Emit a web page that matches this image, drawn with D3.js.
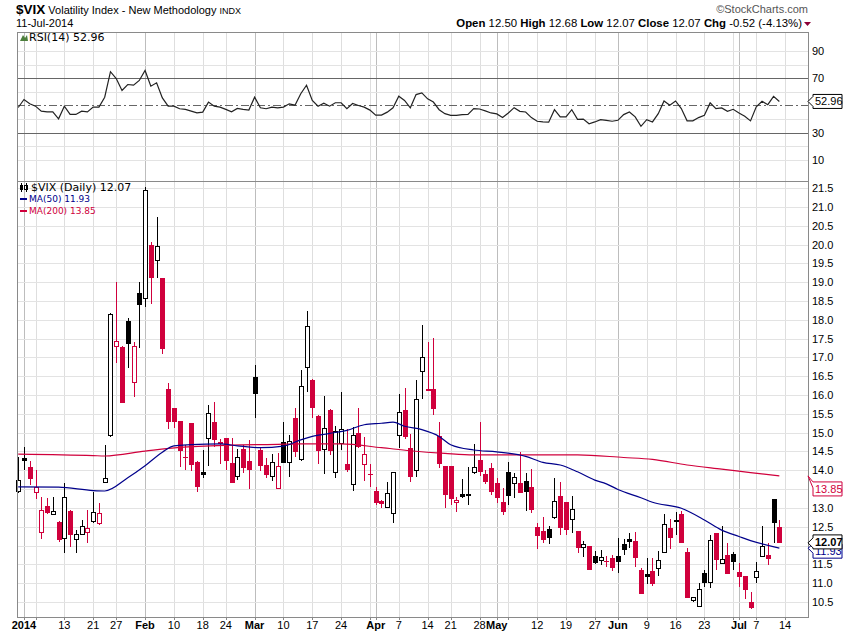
<!DOCTYPE html>
<html>
<head>
<meta charset="utf-8">
<script src="https://cdn.jsdelivr.net/npm/d3@7"></script>
<style>
body { margin: 0; background: #fff; }
svg text { font-family: "Liberation Sans", Arial, sans-serif; fill: #000; }
</style>
</head>
<body>
<div id="chart"></div>
<script>
// trading days on the chart, Dec 31 2013 .. Jul 11 2014
var dates = ["2013-12-31",
  "2014-01-02","2014-01-03","2014-01-06","2014-01-07","2014-01-08","2014-01-09","2014-01-10","2014-01-13","2014-01-14","2014-01-15","2014-01-16","2014-01-17","2014-01-21","2014-01-22","2014-01-23","2014-01-24","2014-01-27","2014-01-28","2014-01-29","2014-01-30","2014-01-31",
  "2014-02-03","2014-02-04","2014-02-05","2014-02-06","2014-02-07","2014-02-10","2014-02-11","2014-02-12","2014-02-13","2014-02-14","2014-02-18","2014-02-19","2014-02-20","2014-02-21","2014-02-24","2014-02-25","2014-02-26","2014-02-27","2014-02-28",
  "2014-03-03","2014-03-04","2014-03-05","2014-03-06","2014-03-07","2014-03-10","2014-03-11","2014-03-12","2014-03-13","2014-03-14","2014-03-17","2014-03-18","2014-03-19","2014-03-20","2014-03-21","2014-03-24","2014-03-25","2014-03-26","2014-03-27","2014-03-28","2014-03-31",
  "2014-04-01","2014-04-02","2014-04-03","2014-04-04","2014-04-07","2014-04-08","2014-04-09","2014-04-10","2014-04-11","2014-04-14","2014-04-15","2014-04-16","2014-04-17","2014-04-21","2014-04-22","2014-04-23","2014-04-24","2014-04-25","2014-04-28","2014-04-29","2014-04-30",
  "2014-05-01","2014-05-02","2014-05-05","2014-05-06","2014-05-07","2014-05-08","2014-05-09","2014-05-12","2014-05-13","2014-05-14","2014-05-15","2014-05-16","2014-05-19","2014-05-20","2014-05-21","2014-05-22","2014-05-23","2014-05-27","2014-05-28","2014-05-29","2014-05-30",
  "2014-06-02","2014-06-03","2014-06-04","2014-06-05","2014-06-06","2014-06-09","2014-06-10","2014-06-11","2014-06-12","2014-06-13","2014-06-16","2014-06-17","2014-06-18","2014-06-19","2014-06-20","2014-06-23","2014-06-24","2014-06-25","2014-06-26","2014-06-27","2014-06-30",
  "2014-07-01","2014-07-02","2014-07-03","2014-07-07","2014-07-08","2014-07-09","2014-07-10","2014-07-11"];

var open = [13.46,
  14.32,14.08,13.42,12.37,13.05,12.84,12.63,12.19,12.92,12.17,12.33,12.35,12.63,12.59,13.68,14.94,17.30,17.28,17.97,16.35,18.70,
  18.57,19.99,19.59,19.12,16.16,15.65,15.31,14.36,15.25,14.23,13.95,14.85,15.28,14.76,14.85,14.19,13.85,14.56,14.25,
  16.47,14.54,14.14,13.83,13.52,14.76,14.23,15.38,14.29,16.74,16.40,15.44,14.56,15.60,13.96,14.72,14.17,13.65,15.00,14.16,13.91,
  13.45,13.18,13.02,12.88,14.96,15.60,14.60,14.01,16.65,16.15,16.15,14.91,14.11,14.11,13.14,13.37,13.35,13.94,14.27,13.90,14.05,
  13.65,13.17,13.95,13.65,13.67,13.72,13.55,12.48,12.39,12.44,12.75,13.32,13.17,12.70,12.39,11.95,11.99,11.72,11.62,11.58,11.68,
  11.72,12.04,12.17,12.13,11.35,11.25,11.32,11.42,11.82,12.46,12.66,12.84,11.82,10.54,10.40,11.26,11.03,12.33,11.53,11.75,11.77,
  11.29,11.19,10.49,11.16,11.73,11.75,13.24,12.50];

var high = [14.36,
  14.63,14.25,14.01,13.30,13.26,13.28,12.66,13.67,12.95,12.41,12.68,12.95,13.43,13.12,14.67,18.17,19.01,17.30,18.06,17.42,19.01,
  21.52,20.07,20.74,19.12,16.33,15.65,15.31,14.67,15.27,14.26,14.54,15.73,15.82,14.82,14.87,14.85,14.56,14.67,14.80,
  16.80,14.58,14.32,14.43,14.45,15.28,14.94,15.66,16.66,18.23,16.43,15.46,15.97,15.63,15.18,16.09,15.09,15.16,15.65,14.89,14.17,
  13.56,13.20,13.70,13.96,16.02,16.20,14.96,16.40,17.86,17.40,17.51,15.29,14.11,14.11,13.30,13.76,14.10,14.70,15.28,14.01,14.19,
  13.79,13.52,14.23,13.92,14.49,13.92,14.03,12.59,12.75,12.52,13.79,13.70,13.17,13.32,12.39,12.13,11.99,11.86,11.88,11.71,11.75,
  12.19,12.17,12.34,12.37,11.40,11.66,11.66,11.86,12.84,12.70,12.90,12.93,11.93,10.62,11.01,11.35,12.28,12.33,12.52,12.06,11.82,
  11.53,11.19,10.77,11.55,12.52,12.06,13.24,12.68];

var low = [13.40,
  14.01,13.61,13.23,12.17,12.83,12.84,12.10,11.81,11.97,11.81,12.28,12.06,12.61,12.55,13.68,14.89,16.84,15.78,16.71,15.96,17.24,
  18.33,18.42,19.10,17.08,15.09,15.12,14.08,14.01,13.99,13.43,13.80,14.11,14.63,14.18,14.01,13.66,13.74,13.92,13.50,
  15.38,13.99,13.80,13.72,13.52,14.19,13.83,14.36,14.25,16.09,15.38,14.16,13.90,14.41,13.79,14.54,13.96,13.46,14.60,13.72,13.56,
  13.08,13.00,13.02,12.61,14.58,14.82,13.70,13.81,15.89,16.11,15.47,14.05,12.99,13.09,12.90,13.26,13.08,13.90,13.85,13.64,13.34,
  13.14,12.81,13.08,13.27,13.40,12.93,12.87,11.90,12.06,12.03,12.71,12.28,12.28,12.33,11.81,11.69,11.35,11.51,11.48,11.44,11.33,
  11.28,11.75,11.93,11.44,10.71,10.98,10.93,11.19,11.82,11.90,12.28,12.06,10.60,10.51,10.36,10.91,10.88,11.35,11.53,11.25,11.35,
  10.91,10.57,10.32,11.01,11.73,11.48,12.06,12.07];

var close = [13.74,
  14.23,13.76,13.55,12.95,12.87,12.92,12.15,13.28,12.28,12.30,12.53,12.46,12.88,12.86,13.79,18.15,17.44,15.80,17.35,17.30,18.39,
  21.45,19.10,19.96,17.22,15.29,15.28,14.52,14.34,14.14,13.56,13.86,15.51,14.79,14.72,14.23,13.67,14.35,14.05,14.01,
  16.02,14.11,13.88,14.21,14.11,14.20,14.79,14.47,16.24,17.83,15.65,14.52,15.12,14.52,15.04,15.09,14.01,14.94,14.63,14.43,13.90,
  13.12,13.09,13.39,13.96,15.56,14.89,13.83,15.89,17.02,16.11,15.62,14.17,13.35,13.24,13.20,13.28,13.36,14.08,13.96,13.70,13.41,
  13.26,12.90,13.30,13.81,13.40,13.43,12.93,12.24,12.15,12.19,13.18,12.46,12.43,12.96,11.93,12.03,11.35,11.53,11.70,11.57,11.41,
  11.57,11.87,12.08,11.69,10.71,11.16,10.98,11.62,12.56,12.19,12.68,12.06,10.61,10.62,10.85,10.99,12.15,11.60,11.63,11.25,11.57,
  11.16,10.82,10.32,11.33,11.99,11.64,12.59,12.07];

var prevClose = 13.56; // close before the first bar, sets its colour

var rsi = [48.5,
  54.4,51.2,49.5,45.8,45.3,45.3,40.2,49.5,43.4,43.4,45.8,45.3,48.8,48.8,56.1,74.8,69.8,61.0,65.4,64.9,68.4,
  75.7,64.2,66.7,55.6,49.5,49.5,47.6,47.1,45.8,44.6,45.1,52.5,49.5,48.8,47.1,45.3,47.8,47.1,46.6,
  56.1,48.3,47.6,48.8,48.3,48.8,51.2,50.2,58.6,64.9,53.7,49.5,51.7,49.5,52.0,52.0,47.6,51.5,50.0,48.8,46.6,
  42.9,42.9,45.1,48.3,56.8,53.7,48.3,58.0,59.3,54.9,52.5,46.9,44.0,42.8,42.8,43.3,43.5,47.7,47.4,46.0,44.5,
  43.8,41.1,44.5,48.4,45.7,45.2,41.1,38.4,37.9,37.7,46.9,41.6,41.6,46.9,39.8,40.0,36.6,37.9,39.6,39.1,38.4,
  39.1,43.3,45.2,41.6,34.7,39.6,37.9,44.0,53.3,50.1,53.3,47.7,38.7,38.7,41.1,42.8,51.9,47.7,48.2,45.7,47.2,
  44.5,42.1,38.7,49.0,53.1,50.6,56.7,52.96];

var ma50Dates = ["2013-12-31","2014-01-10","2014-01-21","2014-01-23","2014-01-29","2014-02-03","2014-02-06","2014-02-10","2014-02-13","2014-02-21","2014-02-26",
  "2014-03-04","2014-03-10","2014-03-13","2014-03-17","2014-03-20","2014-03-25","2014-03-28","2014-04-02","2014-04-04","2014-04-08","2014-04-11","2014-04-16",
  "2014-04-21","2014-04-25","2014-05-01","2014-05-08","2014-05-13","2014-05-16","2014-05-21","2014-05-27","2014-05-29","2014-06-02","2014-06-06","2014-06-10",
  "2014-06-17","2014-06-23","2014-06-26","2014-07-01","2014-07-03","2014-07-11"];
var ma50 = [13.56,13.55,13.46,13.45,13.80,14.12,14.48,14.65,14.68,14.70,14.65,
  14.60,14.64,14.81,14.90,14.98,15.06,15.21,15.25,15.28,15.17,15.08,14.90,
  14.68,14.54,14.49,14.37,14.21,14.14,13.96,13.74,13.64,13.49,13.27,13.15,
  12.99,12.68,12.41,12.24,12.13,11.93];

var ma200Dates = ["2013-12-31","2014-01-21","2014-01-23","2014-02-03","2014-02-11","2014-02-25","2014-03-07","2014-03-13","2014-03-24","2014-04-02","2014-04-09",
  "2014-04-17","2014-04-25","2014-05-08","2014-05-21","2014-06-03","2014-06-10","2014-06-18","2014-06-26","2014-07-03","2014-07-11"];
var ma200 = [14.43,14.39,14.38,14.51,14.61,14.67,14.69,14.70,14.70,14.60,14.52,
  14.45,14.41,14.41,14.41,14.34,14.29,14.14,14.03,13.94,13.85];

// labels hidden behind the value tags are left out (13.5, 12.0 and 50)
var priceTicks = [10.5,11.0,11.5,12.0,12.5,13.0,13.5,14.0,14.5,15.0,15.5,16.0,16.5,17.0,17.5,18.0,18.5,19.0,19.5,20.0,20.5,21.0,21.5];
var priceLabels = [10.5,11.0,11.5,12.5,13.0,14.0,14.5,15.0,15.5,16.0,16.5,17.0,17.5,18.0,18.5,19.0,19.5,20.0,20.5,21.0,21.5];
var rsiGrid = [10,20,30,40,50,60,70,80,90];
var rsiLabels = [90,70,30,10];

var tickDates = ["2014-01-02","2014-01-13","2014-01-21","2014-01-27","2014-02-03","2014-02-10","2014-02-18","2014-02-24","2014-03-03","2014-03-10","2014-03-17","2014-03-24",
  "2014-04-01","2014-04-07","2014-04-14","2014-04-21","2014-04-28","2014-05-01","2014-05-12","2014-05-19","2014-05-27","2014-06-02","2014-06-09","2014-06-16","2014-06-23",
  "2014-07-01","2014-07-07","2014-07-14"];
var tickText = ["2014","13","21","27","Feb","10","18","24","Mar","10","17","24","Apr","7","14","21","28","May","12","19","27","Jun","9","16","23","Jul","7","14"];

var W = 850, H = 633;
var L = 17, R = 808;
var RSI_T = 32, RSI_B = 181, PX_T = 181, PX_B = 617;
var red = "#d0003c", navy = "#00008b";

var svg = d3.select("#chart").append("svg")
	.attr("width", W)
	.attr("height", H);

var x = d3.scaleLinear().domain([-0.21, 136.97]).range([L, R]);
var y = d3.scaleLinear().domain([10.10, 21.69]).range([PX_B, PX_T]);
var yr = d3.scaleLinear().domain([-5.5, 104]).range([RSI_B, RSI_T]);

// index of a date on the axis; dates past the data sit right after it
function idx(s){
	var k = dates.indexOf(s);
	return k < 0 ? dates.length : k;
}
function px(j){ return Math.round(x(j)) + 0.5; }

// weekly and monthly grid positions
var parse = d3.timeParse("%Y-%m-%d");
var dt = dates.map(parse);
var weekLines = [], monthLines = [];
dt.forEach(function(d, j){
	if (j === 0) return;
	var p = dt[j-1];
	if (d.getMonth() !== p.getMonth()) monthLines.push(j);
	else if (d.getDay() < p.getDay()) weekLines.push(j);
});
weekLines.push(dates.length);

function vgrid(top, bot){
	var g = svg.append("g").attr("shape-rendering", "crispEdges");
	g.selectAll("line.w").data(weekLines).join("line")
		.attr("x1", px).attr("x2", px)
		.attr("y1", top).attr("y2", bot)
		.attr("stroke", "#dedede");
	g.selectAll("line.m").data(monthLines).join("line")
		.attr("x1", px).attr("x2", px)
		.attr("y1", top).attr("y2", bot)
		.attr("stroke", "#bdbdbd");
}

// ---- RSI panel
vgrid(RSI_T, RSI_B);
var rg = svg.append("g").attr("shape-rendering", "crispEdges");
rg.selectAll("line").data(rsiGrid).join("line")
	.attr("x1", L).attr("x2", R)
	.attr("y1", function(v){ return Math.round(yr(v)) + 0.5; })
	.attr("y2", function(v){ return Math.round(yr(v)) + 0.5; })
	.attr("stroke", function(v){ return (v === 70 || v === 30 || v === 50) ? "#666" : "#e3e3e3"; })
	.attr("stroke-dasharray", function(v){ return v === 50 ? "8,3,2,3" : null; });

svg.append("g").selectAll("text").data(rsiLabels).join("text")
	.attr("x", R + 4)
	.attr("y", function(v){ return yr(v) + 4; })
	.attr("font-size", 11)
	.text(function(v){ return v; });

svg.append("path")
	.datum(rsi)
	.attr("fill", "none")
	.attr("stroke", "#222")
	.attr("stroke-width", 1.2)
	.attr("d", d3.line().x(function(v, j){ return x(j); }).y(function(v){ return yr(v); }));

svg.append("rect")
	.attr("x", L + 0.5).attr("y", RSI_T + 0.5)
	.attr("width", R - L).attr("height", RSI_B - RSI_T)
	.attr("fill", "none").attr("stroke", "#8a8a8a")
	.attr("shape-rendering", "crispEdges");

// ---- price panel
vgrid(PX_T, PX_B);
svg.append("g").attr("shape-rendering", "crispEdges")
	.selectAll("line").data(priceTicks).join("line")
	.attr("x1", L).attr("x2", R)
	.attr("y1", function(v){ return Math.round(y(v)) + 0.5; })
	.attr("y2", function(v){ return Math.round(y(v)) + 0.5; })
	.attr("stroke", "#e3e3e3");

svg.append("g").selectAll("text").data(priceLabels).join("text")
	.attr("x", R + 4)
	.attr("y", function(v){ return y(v) + 4; })
	.attr("font-size", 11)
	.text(d3.format(".1f"));

// candles: black/red = close vs previous close, hollow = close above open
function colour(j){
	var pc = j ? close[j-1] : prevClose;
	return close[j] >= pc ? "#000" : red;
}
var cg = svg.append("g").attr("shape-rendering", "crispEdges");
var bars = cg.selectAll("g").data(d3.range(dates.length)).join("g");
bars.append("line")
	.attr("x1", px).attr("x2", px)
	.attr("y1", function(j){ return y(high[j]); })
	.attr("y2", function(j){ return y(low[j]); })
	.attr("stroke", colour);
bars.append("rect")
	.attr("x", function(j){ return close[j] < open[j] ? Math.round(x(j)) - 2 : Math.round(x(j)) - 1.5; })
	.attr("width", function(j){ return close[j] < open[j] ? 5 : 4; })
	.attr("y", function(j){ return Math.round(y(Math.max(open[j], close[j]))) + (close[j] < open[j] ? 0 : 0.5); })
	.attr("height", function(j){ return Math.max(1, Math.round(y(Math.min(open[j], close[j])) - y(Math.max(open[j], close[j])))); })
	.attr("fill", function(j){ return close[j] < open[j] ? colour(j) : "#fff"; })
	.attr("stroke", function(j){ return close[j] < open[j] ? "none" : colour(j); });

// moving averages
function maLine(ds, vs, col){
	svg.append("path")
		.datum(ds.map(function(d, k){ return [idx(d), vs[k]]; }))
		.attr("fill", "none")
		.attr("stroke", col)
		.attr("stroke-width", 1.2)
		.attr("d", d3.line().curve(d3.curveMonotoneX)
			.x(function(p){ return x(p[0]); })
			.y(function(p){ return y(p[1]); }));
}
maLine(ma200Dates, ma200, red);
maLine(ma50Dates, ma50, navy);

svg.append("rect")
	.attr("x", L + 0.5).attr("y", PX_T + 0.5)
	.attr("width", R - L).attr("height", PX_B - PX_T)
	.attr("fill", "none").attr("stroke", "#8a8a8a")
	.attr("shape-rendering", "crispEdges");

// x axis
svg.append("g").attr("shape-rendering", "crispEdges")
	.selectAll("line").data(weekLines.concat(monthLines)).join("line")
	.attr("x1", px).attr("x2", px)
	.attr("y1", PX_B).attr("y2", PX_B + 3)
	.attr("stroke", "#888");
svg.append("g").selectAll("text").data(tickDates).join("text")
	.attr("x", function(d){ return x(idx(d)); })
	.attr("y", 629)
	.attr("text-anchor", "middle")
	.attr("font-size", 11)
	.attr("font-weight", function(d, k){ return isNaN(+tickText[k]) || tickText[k] === "2014" ? "bold" : null; })
	.text(function(d, k){ return tickText[k]; });

// ---- header
var last = dates.length - 1;
var t1 = svg.append("text").attr("x", 16).attr("y", 14);
t1.append("tspan").attr("font-weight", "bold").attr("font-size", 13.5).text("$VIX");
t1.append("tspan").attr("font-size", 11).text(" Volatility Index - New Methodology ");
t1.append("tspan").attr("font-size", 9).text("INDX");
svg.append("text").attr("x", 16).attr("y", 27).attr("font-size", 11).text("11-Jul-2014");

svg.append("text").attr("x", 808).attr("y", 13).attr("text-anchor", "end")
	.attr("font-size", 11).style("fill", "#555").text("\u00a9StockCharts.com");

var chg = close[last] - close[last-1];
var t2 = svg.append("text").attr("x", 802).attr("y", 27).attr("text-anchor", "end").attr("font-size", 11.4);
[["Open", open[last]], ["High", high[last]], ["Low", low[last]], ["Close", close[last]]].forEach(function(p){
	t2.append("tspan").attr("font-weight", "bold").text(p[0] + " ");
	t2.append("tspan").text(p[1].toFixed(2) + "  ");
});
t2.append("tspan").attr("font-weight", "bold").text("Chg ");
t2.append("tspan").text(chg.toFixed(2) + " (" + (chg / close[last-1] * 100).toFixed(2) + "%)");
svg.append("path").attr("d", "M804,22L811,22L807.5,26Z").attr("fill", "#8b0038");

// ---- legends
svg.append("path").attr("d", "M20,41L23,35L25,38L27,35L28,41Z").attr("fill", "#4c7f3c");
svg.append("text").attr("x", 29).attr("y", 41)
	.style("font-family", "'DejaVu Sans', sans-serif").attr("font-size", 11)
	.text("RSI(14) " + rsi[last].toFixed(2));

var ic = svg.append("g").attr("shape-rendering", "crispEdges");
ic.append("rect").attr("x", 20).attr("y", 185).attr("width", 3).attr("height", 5).attr("fill", "#000");
ic.append("line").attr("x1", 21.5).attr("x2", 21.5).attr("y1", 183).attr("y2", 192).attr("stroke", "#000");
ic.append("rect").attr("x", 24.5).attr("y", 185.5).attr("width", 3).attr("height", 4).attr("fill", "#fff").attr("stroke", "#000");
ic.append("line").attr("x1", 26.5).attr("x2", 26.5).attr("y1", 183).attr("y2", 192).attr("stroke", "#000");
svg.append("text").attr("x", 31).attr("y", 191)
	.style("font-family", "'DejaVu Sans', sans-serif").attr("font-size", 11)
	.text("$VIX (Daily) " + close[last].toFixed(2));

[["MA(50) " + ma50[ma50.length-1].toFixed(2), navy, 202], ["MA(200) " + ma200[ma200.length-1].toFixed(2), red, 214]].forEach(function(p){
	svg.append("rect").attr("x", 20).attr("y", p[2] - 4).attr("width", 7).attr("height", 2).attr("fill", p[1]);
	svg.append("text").attr("x", 29).attr("y", p[2])
		.style("font-family", "'DejaVu Sans', sans-serif").attr("font-size", 9)
		.style("fill", p[1]).text(p[0]);
});

// ---- value tags on the right axis
function tag(py, cy, txt, col, bold){
	var top = cy - 7, bot = cy + 7;
	var a = Math.max(py - 5, top), b = Math.min(Math.max(py + 5, top + 6), bot);
	svg.append("path")
		.attr("d", "M808," + py + "L813," + a + "L813," + top + "L842," + top + "L842," + bot + "L813," + bot + "L813," + b + "Z")
		.attr("fill", "#fff").attr("stroke", col).attr("stroke-width", 1);
	svg.append("text").attr("x", 815).attr("y", cy + 4).attr("font-size", 11)
		.attr("font-weight", bold ? "bold" : null).style("fill", col).text(txt);
}
var r = rsi[last];
tag(yr(r), yr(r), r.toFixed(2), "#000", false);
var m2 = ma200[ma200.length-1], m5 = ma50[ma50.length-1];
tag(y(m2), y(m2) + 13, m2.toFixed(2), red, false);
tag(y(m5), y(m5) + 3, m5.toFixed(2), navy, false);
tag(y(close[last]), y(close[last]) - 1, close[last].toFixed(2), "#000", true);
</script>
</body>
</html>
